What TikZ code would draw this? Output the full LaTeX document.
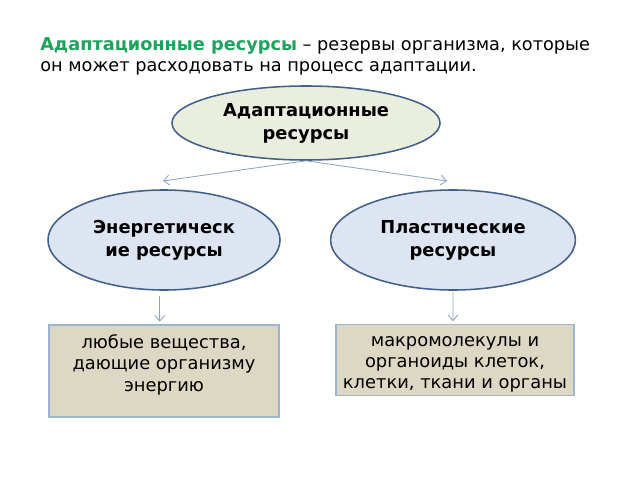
\documentclass[tikz,border=0pt]{standalone}
\usepackage{fontspec}
\setmainfont{DejaVu Sans}
\usepackage{tikz}
\usetikzlibrary{shapes.geometric,arrows.meta}
\definecolor{titlegreen}{HTML}{1FA35C}
\definecolor{ellborder}{HTML}{41618A}
\definecolor{topfill}{HTML}{E9EEDE}
\definecolor{sidefill}{HTML}{DCE5F1}
\definecolor{boxfill}{HTML}{DDD8C3}
\definecolor{boxborder}{HTML}{9DB6CF}
\definecolor{arrcol}{HTML}{8DA3C2}
\tikzstyle{ell}=[ellipse,draw=ellborder,line width=1.1pt,align=center,font=\fontsize{12.7}{16.3}\selectfont\bfseries]
\tikzstyle{res} = [draw=boxborder,fill=boxfill,line width=0.8pt]
\tikzstyle{txt} = [align=center,font=\fontsize{12.7}{15}\selectfont]
\tikzstyle{arr} = [draw=arrcol,line width=0.6pt,-{Straight Barb[length=4pt,width=7pt]}]

\begin{document}
\begin{tikzpicture}[x=0.025cm,y=-0.025cm]

  \useasboundingbox (0,0) rectangle (640,480);

  % heading
  \node[anchor=north west,align=left,inner sep=0pt,font=\fontsize{12.6}{15.5}\selectfont] (head) at (40,37)
    {\textcolor{titlegreen}{\textbf{Адаптационные ресурсы}} – резервы организма, которые\\он может расходовать на процесс адаптации.};

  % the three ovals
  \node[ell,fill=topfill,minimum width=6.7cm,minimum height=1.85cm] (top) at (306,123) {\raisebox{-2pt}{Адаптационные}\\\raisebox{-2pt}{ресурсы}};
  \node[ell,fill=sidefill,minimum width=5.8cm,minimum height=2.5cm] (energ) at (164,240) {Энергетическ\\ие ресурсы};
  \node[ell,fill=sidefill,minimum width=6.12cm,minimum height=2.5cm] (plast) at (453,240) {Пластические\\ресурсы};

  % the two boxes
  \node[res,minimum width=5.75cm,minimum height=2.3cm] (ebox) at (164,371) {};
  \node[txt,anchor=north] (etext) at ([yshift=-4pt]ebox.north) {любые вещества,\\дающие организму\\энергию};
  \node[res,minimum width=5.95cm,minimum height=1.77cm] (pbox) at (455,360) {};
  \node[txt,anchor=north] (ptext) at ([yshift=-5pt]pbox.north) {макромолекулы и\\органоиды клеток,\\клетки, ткани и органы};

  \coordinate (ltip) at (163,181);
  \coordinate (rtip) at (447,181);

  \draw[arr] (top.south) -- (ltip);
  \draw[arr] (top.south) -- (rtip);
  \draw[arr] ([xshift=-3pt,yshift=-4pt]energ.south) -- ([xshift=-3pt,yshift=2pt]ebox.north);
  \draw[arr] ([yshift=-1pt]plast.south) -- ([xshift=-1.4pt,yshift=2pt]pbox.north);

\end{tikzpicture}
\end{document}
